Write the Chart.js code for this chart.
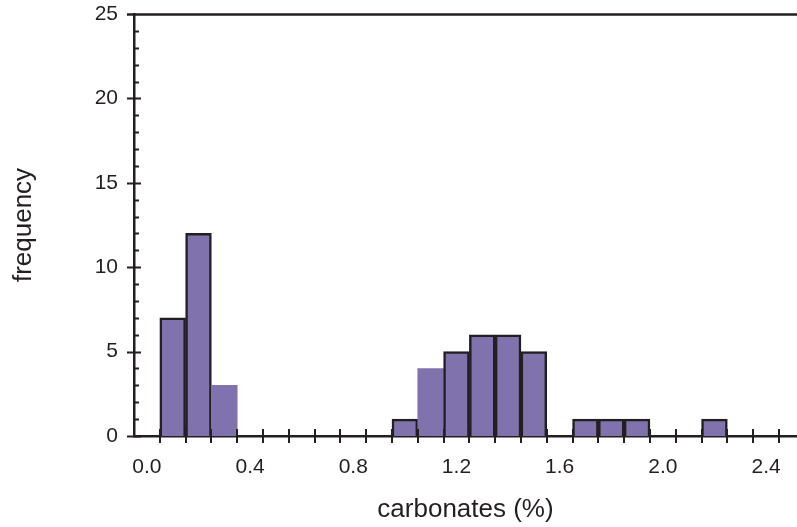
<!DOCTYPE html>
<html>
<head>
<meta charset="utf-8">
<script src="https://cdn.jsdelivr.net/npm/chart.js@4/dist/chart.umd.min.js"></script>
<style>
  html, body { margin: 0; padding: 0; background: #fff; }
  canvas { display: block; }
</style>
</head>
<body>
<canvas id="histo" width="797" height="527"></canvas>
<script>
    'use strict';

    // histogram bins (centre of each 0.1 % class) and counts
    const binCenters = [0.1, 0.2, 0.3, 1.0, 1.1, 1.2, 1.3, 1.4, 1.5, 1.7, 1.8, 1.9, 2.2];
    const frequencies = [7, 12, 3, 1, 4, 5, 6, 6, 5, 1, 1, 1, 1];
    // bars printed without the dark outline
    const outlined = [true, true, false, true, false, true, true, true, true, true, true, true, true];

    const xTickLabels = [0.0, 0.4, 0.8, 1.2, 1.6, 2.0, 2.4];
    const yTickLabels = [0, 5, 10, 15, 20, 25];
    const binWidth = 0.1;

    const INK = '#231f20';
    const FILL = '#8072ac';

    // tick marks: x ticks sit on the bin edges, y has minor ticks at every count
    const axisMarks = {
        id: 'axisMarks',
        afterDatasetsDraw(chart) {
            const ctx = chart.ctx,
                x = chart.scales.x,
                y = chart.scales.y,
                y0 = y.getPixelForValue(0),
                xl = x.left;
            ctx.save();
            ctx.strokeStyle = INK;
            ctx.lineWidth = 2;
            ctx.beginPath();
            for (let edge = binWidth / 2; edge < x.max; edge += binWidth) {
                const px = Math.round(x.getPixelForValue(edge));
                ctx.moveTo(px, y0 - 7);
                ctx.lineTo(px, y0 + 7);
            }
            for (let v = 0; v < y.max; v++) {
                const py = Math.round(y.getPixelForValue(v)) + 0.5;
                if (v % 5 === 0) {
                    ctx.moveTo(xl - 7, py);
                    ctx.lineTo(xl + 7, py);
                } else {
                    ctx.moveTo(xl, py);
                    ctx.lineTo(xl + 5, py);
                }
            }
            ctx.stroke();
            // top frame line at the axis maximum
            const yt = Math.round(y.getPixelForValue(y.max)) + 0.5;
            ctx.lineWidth = 2.5;
            ctx.beginPath();
            ctx.moveTo(xl - 7, yt);
            ctx.lineTo(x.right, yt);
            ctx.stroke();
            ctx.restore();
        }
    };

    new Chart(document.getElementById('histo'), {
        type: 'bar',
        data: {
            datasets: [{
                data: binCenters.map((c, i) => ({ x: c, y: frequencies[i] })),
                backgroundColor: FILL,
                borderColor: INK,
                borderWidth: outlined.map(o => o ? 2.5 : 0),
                borderSkipped: 'bottom',
                barPercentage: 1,
                categoryPercentage: 1
            }]
        },
        options: {
            responsive: false,
            animation: false,
            layout: { padding: { top: 14, right: 0, bottom: 0, left: 0 } },
            plugins: {
                legend: { display: false },
                tooltip: { enabled: false }
            },
            scales: {
                x: {
                    type: 'linear',
                    offset: false,
                    min: -0.05,
                    max: 2.52,
                    afterBuildTicks(scale) {
                        scale.ticks = xTickLabels.map(v => ({ value: v }));
                    },
                    afterFit(scale) {
                        scale.height = 91;
                        scale.paddingLeft = 0;
                        scale.paddingRight = 0;
                    },
                    grid: { display: false, drawTicks: false },
                    border: { display: true, color: INK, width: 2.5 },
                    ticks: {
                        padding: 19,
                        color: INK,
                        font: { family: 'Liberation Sans', size: 21 },
                        callback: v => v.toFixed(1)
                    },
                    title: {
                        display: true,
                        text: 'carbonates (%)',
                        color: INK,
                        font: { family: 'Liberation Sans', size: 26 },
                        padding: { top: 0, bottom: 2 }
                    }
                },
                y: {
                    min: 0,
                    max: 25,
                    afterBuildTicks(scale) {
                        scale.ticks = yTickLabels.map(v => ({ value: v }));
                    },
                    afterFit(scale) {
                        scale.width = 134;
                        scale.paddingTop = 0;
                        scale.paddingBottom = 0;
                    },
                    grid: { display: false, drawTicks: false },
                    border: { display: true, color: INK, width: 2.5 },
                    ticks: {
                        padding: 16,
                        color: INK,
                        font: { family: 'Liberation Sans', size: 21 }
                    },
                    title: {
                        display: true,
                        text: 'frequency',
                        color: INK,
                        font: { family: 'Liberation Sans', size: 26 },
                        padding: { top: 8, bottom: 0 }
                    }
                }
            }
        },
        plugins: [axisMarks]
    });
</script>
</body>
</html>
